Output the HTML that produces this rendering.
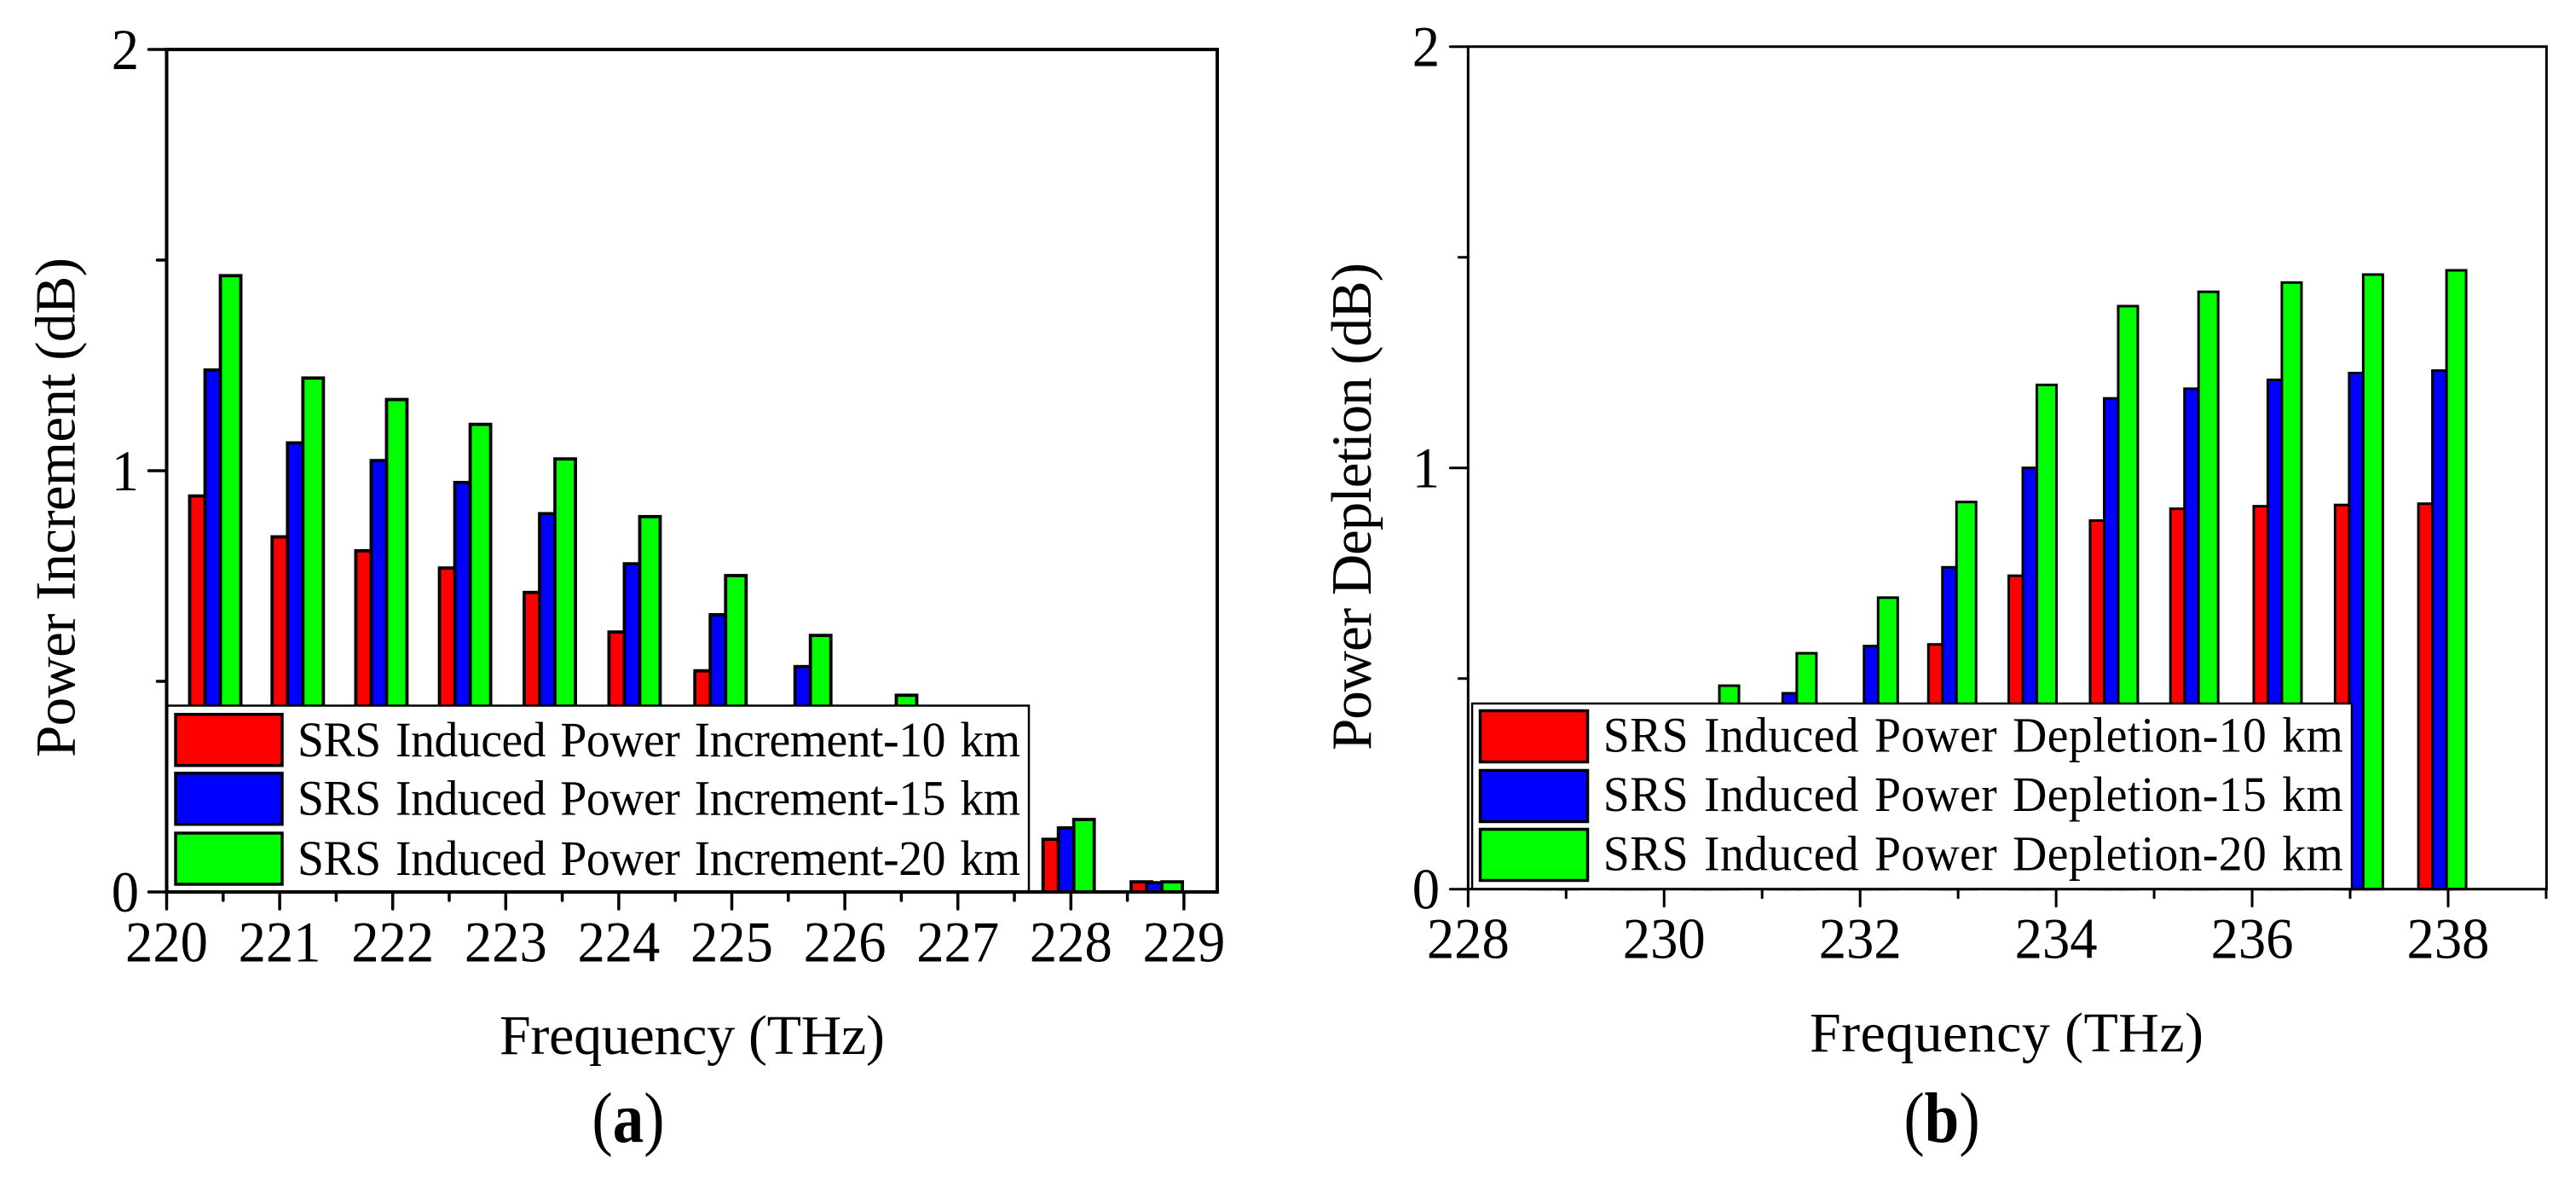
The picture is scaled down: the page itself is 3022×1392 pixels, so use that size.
<!DOCTYPE html>
<html lang="en">
<head>
<meta charset="utf-8">
<title>SRS Induced Power Increment and Depletion</title>
<style>
html,body{margin:0;padding:0;background:#fff;}
svg{display:block;}
text{font-family:"Liberation Serif","Times New Roman",serif;fill:#000;}
</style>
</head>
<body>
<svg id="figure" xmlns="http://www.w3.org/2000/svg" width="3022" height="1392" viewBox="0 0 3022 1392">
  <rect x="0" y="0" width="3022" height="1392" fill="#ffffff"/>
  <g id="panel-a"></g>
  <g id="panel-b"></g>
  <text transform="translate(737 1339) scale(0.87 1)" font-size="84" text-anchor="middle">(<tspan font-weight="bold">a</tspan>)</text>
  <text transform="translate(2278 1339) scale(0.87 1)" font-size="84" text-anchor="middle">(<tspan font-weight="bold">b</tspan>)</text>
</svg>
<script>
// Panel (a) data
const freqA = [220.43, 221.16, 221.90, 222.64, 223.39, 224.14, 224.90, 225.65, 226.41, 227.17, 227.98, 228.76];
const incr10 = [0.940, 0.843, 0.810, 0.769, 0.711, 0.617, 0.525, 0.420, 0.320, 0.220, 0.125, 0.024];
const incr15 = [1.239, 1.066, 1.024, 0.972, 0.898, 0.779, 0.658, 0.535, 0.400, 0.270, 0.152, 0.022];
const incr20 = [1.463, 1.220, 1.169, 1.110, 1.028, 0.891, 0.751, 0.609, 0.467, 0.320, 0.172, 0.024];
const xTicksA = [220, 221, 222, 223, 224, 225, 226, 227, 228, 229];
const legendA = ["SRS Induced Power Increment-10 km", "SRS Induced Power Increment-15 km", "SRS Induced Power Increment-20 km"];

// Panel (b) data
const freqB = [228.87, 229.70, 230.52, 231.31, 232.14, 232.94, 233.76, 234.59, 235.41, 236.26, 237.09, 237.94];
const depl10 = [0.180, 0.240, 0.300, 0.360, 0.430, 0.581, 0.744, 0.875, 0.903, 0.909, 0.912, 0.915];
const depl15 = [0.230, 0.310, 0.400, 0.465, 0.577, 0.764, 1.000, 1.165, 1.188, 1.209, 1.225, 1.231];
const depl20 = [0.300, 0.390, 0.483, 0.560, 0.692, 0.919, 1.197, 1.384, 1.418, 1.440, 1.459, 1.469];
const xTicksB = [228, 230, 232, 234, 236, 238];
const legendB = ["SRS Induced Power Depletion-10 km", "SRS Induced Power Depletion-15 km", "SRS Induced Power Depletion-20 km"];

// Shared
const yTicks = [0, 1, 2];
const seriesColors = ["#ff0000", "#0000ff", "#00ff00"];

const NS = "http://www.w3.org/2000/svg";
function make(parent, tag, attrs, text) {
  const node = document.createElementNS(NS, tag);
  for (const key in attrs) node.setAttribute(key, attrs[key]);
  if (text !== undefined) node.textContent = text;
  parent.appendChild(node);
  return node;
}

function drawChart(root, c) {
  const xScale = v => c.left + (v - c.xMin) * c.pxPerX;
  const yScale = v => c.base - v * c.pxPerY;
  const xMax = c.xMin + (c.right - c.left) / c.pxPerX;

  // bars, drawn in overlapping order (10 km, 15 km, 20 km)
  c.freq.forEach((f, g) => {
    c.series.forEach((values, s) => {
      const barLeft = xScale(f + (s - 1) * c.barStep - c.barWidth / 2);
      const barRight = xScale(f + (s - 1) * c.barStep + c.barWidth / 2);
      const bar = make(root, "rect", {
        x: barLeft, y: yScale(values[g]), width: barRight - barLeft, height: yScale(0) - yScale(values[g]),
        fill: seriesColors[s], stroke: "#000", "stroke-width": c.barStroke
      });
      
      
    });
  });

  // legend
  const legendBox = make(root, "rect", {
    x: c.legend.x, y: c.legend.y, width: c.legend.w, height: c.base - c.legend.y,
    fill: "#fff", stroke: "#000", "stroke-width": 2.5
  });
  
  
  c.legendLabels.forEach((label, i) => {
    const key = make(root, "rect", {
      x: c.legend.keyX, y: c.legend.keyYs[i], width: c.legend.keyW, height: c.legend.keyH,
      fill: seriesColors[i], stroke: "#000", "stroke-width": 3.5
    });
    
    
    const txt = make(root, "text", {
      transform: "translate(" + c.legend.textX + " " + c.legend.textYs[i] + ") scale(" + c.legend.squeeze + " 1)",
      "font-size": c.legend.font, "word-spacing": 4,
      textLength: c.legend.textW / c.legend.squeeze, lengthAdjust: "spacing"
    }, label);
    
    
  });

  // axes frame
  const frame = make(root, "rect", {
    x: c.left, y: yScale(2), width: c.right - c.left, height: c.base - yScale(2),
    fill: "none", stroke: "#000", "stroke-width": c.axisStroke
  });
  
  

  // x ticks
  c.xTicks.forEach((t, i) => {
    const px = xScale(t);
    const tick = make(root, "line", {
      x1: px, y1: c.base, x2: px, y2: c.base + 20, stroke: "#000", "stroke-width": c.tickStroke, "stroke-linecap": "round"
    });
    
    
    const lab = make(root, "text", {
      transform: "translate(" + px + " " + c.xLabelY + ") scale(0.95 1)",
      "font-size": 68, "text-anchor": "middle"
    }, String(t));
    
    
    const step = i + 1 < c.xTicks.length ? c.xTicks[i + 1] - t : c.xTicks[1] - c.xTicks[0];
    const mid = t + step / 2;
    if (mid <= xMax + 0.001) {
      const minor = make(root, "line", {
        x1: xScale(mid), y1: c.base, x2: xScale(mid), y2: c.base + 10, stroke: "#000", "stroke-width": c.tickStroke, "stroke-linecap": "round"
      });
      
      
    }
  });

  // y ticks
  yTicks.forEach((t, i) => {
    const py = yScale(t);
    const tick = make(root, "line", {
      x1: c.left, y1: py, x2: c.left - 21, y2: py, stroke: "#000", "stroke-width": c.tickStroke, "stroke-linecap": "round"
    });
    
    
    const lab = make(root, "text", {
      transform: "translate(" + c.yLabelX + " " + (py + 23) + ") scale(0.95 1)",
      "font-size": 68, "text-anchor": "end"
    }, String(t));
    
    
    if (i + 1 < yTicks.length) {
      const mid = yScale((t + yTicks[i + 1]) / 2);
      const minor = make(root, "line", {
        x1: c.left, y1: mid, x2: c.left - 11, y2: mid, stroke: "#000", "stroke-width": c.tickStroke, "stroke-linecap": "round"
      });
      
      
    }
  });

  // axis titles
  const xTitle = make(root, "text", {
    x: c.xTitle.x, y: c.xTitle.y, "font-size": 66, "text-anchor": "middle",
    textLength: c.xTitle.len, lengthAdjust: "spacing"
  }, "Frequency (THz)");
  
  
  const yTitle = make(root, "text", {
    x: 0, y: 0, "font-size": 67, "text-anchor": "middle",
    textLength: c.yTitle.len, lengthAdjust: "spacing",
    transform: "translate(" + c.yTitle.x + " " + c.yTitle.y + ") rotate(-90)"
  }, c.yTitle.text);
  
  
}

drawChart(document.getElementById("panel-a"), {
  freq: freqA, series: [incr10, incr15, incr20], xTicks: xTicksA, legendLabels: legendA,
  xMin: 220, left: 195.5, right: 1428, pxPerX: 132.6, base: 1046, pxPerY: 494,
  barWidth: 0.181, barStep: 0.136, barStroke: 3.8, axisStroke: 4, tickStroke: 3.5,
  xLabelY: 1127.3, yLabelX: 163,
  legend: { x: 196, y: 827.5, w: 1011, keyX: 206, keyW: 125, keyH: 60, keyYs: [837.7, 906.7, 977],
            textX: 349, textW: 848, font: 58, squeeze: 0.96, textYs: [887, 955.7, 1026] },
  xTitle: { x: 812, y: 1236, len: 452 },
  yTitle: { x: 87.5, y: 595, len: 586, text: "Power Increment (dB)" }
});

drawChart(document.getElementById("panel-b"), {
  freq: freqB, series: [depl10, depl15, depl20], xTicks: xTicksB, legendLabels: legendB,
  xMin: 228, left: 1722.3, right: 2987.4, pxPerX: 114.97, base: 1042.7, pxPerY: 494,
  barWidth: 0.2, barStep: 0.1435, barStroke: 3, axisStroke: 3, tickStroke: 3,
  xLabelY: 1123.3, yLabelX: 1689,
  legend: { x: 1727, y: 825, w: 1032, keyX: 1736.5, keyW: 126, keyH: 60, keyYs: [833.5, 903.5, 972.5],
            textX: 1880.8, textW: 868, font: 58, squeeze: 0.96, textYs: [881.7, 951, 1020.7] },
  xTitle: { x: 2354, y: 1233, len: 462 },
  yTitle: { x: 1608, y: 594, len: 572, text: "Power Depletion (dB)" }
});
</script>
</body>
</html>
